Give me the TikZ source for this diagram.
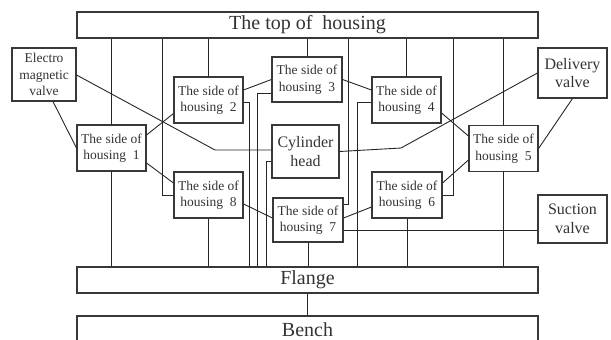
\documentclass[tikz,border=0pt]{standalone}
\usepackage{fontspec}
\setmainfont{Liberation Serif}
\begin{document}
\begin{tikzpicture}[x=1pt,y=-1pt,
  box/.style={draw=black!78, line width=1.1pt, inner sep=0pt, align=center, text=black!80},
  bar/.style={box, minimum width=461pt, minimum height=26pt, font=\fontsize{20}{24}\selectfont},
  side/.style={box, minimum width=69pt, minimum height=46pt, font=\fontsize{13.5}{16.5}\selectfont},
  valve/.style={box, minimum width=69pt, minimum height=49pt, font=\fontsize{16}{18.5}\selectfont},
  wire/.style={draw=black!85, line width=0.9pt}]
\useasboundingbox (0,0) rectangle (611,340);

% frame parts
\node[bar] (top) at (307.5,25) {The top of\ \ housing};
\node[bar] (flange) at (307.5,280) {Flange};
\node[bar, minimum height=28pt] (bench) at (307.5,330) {Bench};

% valves and cylinder head
\node[box, minimum width=64pt, minimum height=53pt, font=\fontsize{13.5}{16.7}\selectfont] (ev) at (44,74.5) {Electro\\magnetic\\valve};
\node[valve, minimum height=50pt] (dv) at (572.5,73) {Delivery\\valve};
\node[valve, minimum height=48pt] (sv) at (572.5,219) {Suction\\valve};
\node[box, minimum width=67pt, minimum height=53pt, font=\fontsize{16}{19}\selectfont] (cyl) at (305.5,151.5) {Cylinder\\head};

% housing sides
\node[side] (s1) at (111.5,148) {The side of\\housing\ \ 1};
\node[side] (s2) at (208.5,100) {The side of\\housing\ \ 2};
\node[side, minimum width=70pt, minimum height=45pt] (s3) at (307,79.5) {The side of\\housing\ \ 3};
\node[side] (s4) at (406.5,100) {The side of\\housing\ \ 4};
\node[side] (s5) at (503.5,148.5) {The side of\\housing\ \ 5};
\node[side, minimum width=70pt] (s6) at (407,195) {The side of\\housing\ \ 6};
\node[side, minimum width=70pt, minimum height=44pt] (s7) at (308,220) {The side of\\housing\ \ 7};
\node[side] (s8) at (208.5,195) {The side of\\housing\ \ 8};

% bend points of the valve lines
\coordinate (evbend) at (215,150);
\coordinate (dvbend) at (401,148);

% vertical ties from the top of housing
\draw[wire] (top.south -| s1.north) -- (s1.north);
\draw[wire] ([xshift=16pt]s1.east |- top.south) |- (s8.west);
\draw[wire] (top.south -| s2.north) -- (s2.north);
\draw[wire] (top.south -| s3.north) -- (s3.north);
\draw[wire] ([xshift=6pt]s3.east |- top.south) |- ([yshift=-7pt]s7.north east);
\draw[wire] (top.south -| s4.north) -- (s4.north);
\draw[wire] ([xshift=12pt]s4.east |- top.south) |- (s6.east);
\draw[wire] (top.south -| s5.north) -- (s5.north);

% vertical ties down to the flange
\draw[wire] (s1.south) -- (s1.south |- flange.north);
\draw[wire] (s8.south) -- (s8.south |- flange.north);
\draw[wire] (s7.south) -- (s7.south |- flange.north);
\draw[wire] (s6.south) -- (s6.south |- flange.north);
\draw[wire] (s5.south) -- (s5.south |- flange.north);
\draw[wire] ([yshift=-2pt]s2.east) -| ([xshift=6pt]s2.east |- flange.north);
\draw[wire] ([yshift=9pt]s3.south west) -| ([xshift=-14pt]s3.west |- flange.north);
\draw[wire] ([yshift=-9.5pt]cyl.west) -| ([xshift=-5pt]cyl.west |- flange.north);
\draw[wire] ([yshift=-2pt]s4.west) -| ([xshift=-14pt]s4.west |- flange.north);
\draw[wire] (flange.south) -- (bench.north);

% valve connections
\draw[wire] ([yshift=-0.5pt]ev.east) -- (evbend) -- (evbend -| cyl.west);
\draw[wire] ([xshift=9pt]ev.south) -- (s1.west);
\draw[wire] (dv.west) -- (dvbend) -- (cyl.east);
\draw[wire] (dv.south) -- (s5.east);
\draw[wire] ([yshift=-10pt]s7.east) -- ([yshift=-10pt]s7.east -| sv.west);

% ring of side-to-side links
\draw[wire] ([yshift=13pt]s1.east) -- ([yshift=10pt]s2.south west);
\draw[wire] ([yshift=-15pt]s1.east) -- ([yshift=12pt]s8.west);
\draw[wire] ([yshift=10pt]s2.east) -- (s3.west);
\draw[wire] (s3.east) -- ([yshift=10pt]s4.west);
\draw[wire] ([yshift=-13pt]s4.east) -- ([yshift=12.5pt]s5.west);
\draw[wire] ([yshift=-11.5pt]s5.west) -- ([yshift=12pt]s6.east);
\draw[wire] ([yshift=-12pt]s6.west) -- ([yshift=2pt]s7.east);
\draw[wire] ([yshift=-9pt]s8.east) -- ([yshift=2pt]s7.west);
\end{tikzpicture}
\end{document}
